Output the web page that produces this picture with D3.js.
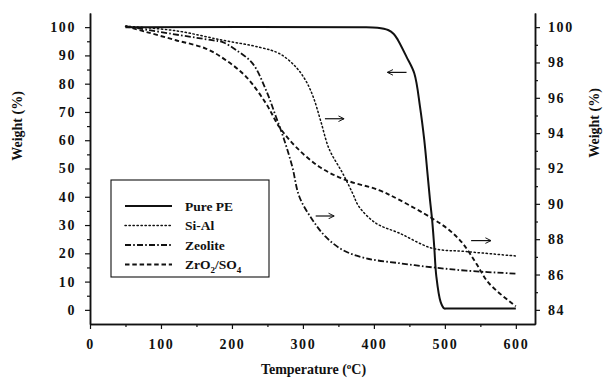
<!DOCTYPE html>
<html>
<head>
<meta charset="utf-8">
<script src="https://cdn.jsdelivr.net/npm/d3@7"></script>
<style>
  html, body { margin: 0; padding: 0; background: #fff; }
  svg { display: block; }
  text { font-family: "Liberation Serif", "Times New Roman", serif; font-weight: bold; fill: #111; }
</style>
</head>
<body>
<svg id="chart" width="606" height="379"></svg>
<script>
// Thermogravimetric curves: temperature (°C) vs. weight (%)
// Pure PE is read on the left axis, the catalysed samples on the right axis.
const pePoints = [
  [50, 100], [380, 100], [405, 99.8], [420, 99.0], [428, 97.6], [434, 95.4],
  [446, 89.5], [457, 83.6], [465, 71.8], [471, 60.0], [475.5, 48.3], [479, 39.0],
  [482, 32.0], [485, 22.4], [488, 11.8], [494, 2.8], [499, 0.5], [503, 0.5], [600, 0.5]
];
const siAlPoints = [
  [50, 100.05], [120, 99.8], [187, 99.26], [240, 98.85], [267, 98.5], [290, 97.75],
  [305, 96.9], [315, 96.0], [325, 94.7], [337, 93.1], [356, 91.73], [370, 90.6],
  [379, 89.84], [403, 88.9], [436, 88.34], [482, 87.49], [530, 87.3], [600, 87.05]
];
const zeolitePoints = [
  [50, 100.05], [126, 99.55], [172, 99.26], [187, 99.15], [206, 98.7], [229, 97.95],
  [248, 96.44], [262, 94.93], [273, 93.7], [285, 92.1], [295, 90.4],
  [313.5, 89.09], [332, 88.14], [356, 87.39], [389, 86.92], [436, 86.64],
  [482, 86.41], [530, 86.22], [600, 86.05]
];
const zrPoints = [
  [50, 100.05], [79, 99.73], [121, 99.26], [163, 98.79], [191.5, 98.13], [220, 97.19],
  [248, 95.68], [266.6, 94.36], [290, 93.23], [323, 92.1], [360, 91.35], [407, 90.78],
  [436, 90.22], [482, 89.18], [506, 88.52], [525, 87.77], [544, 86.64], [562, 85.51],
  [600, 84.2]
];

const seriesNames = ["Pure PE", "Si-Al", "Zeolite", "ZrO2/SO4"];
const seriesAxis = ["left", "right", "right", "right"];
const seriesDash = [null, "1.3 2.7", "6 2.2 1.6 2.2", "4.5 2.8"];
const seriesWidth = [2, 1.5, 1.8, 1.9];

const xTicks = [0, 100, 200, 300, 400, 500, 600];
const xMinorTicks = [50, 150, 250, 350, 450, 550];
const leftTicks = [0, 10, 20, 30, 40, 50, 60, 70, 80, 90, 100];
const leftMinorTicks = [5, 15, 25, 35, 45, 55, 65, 75, 85, 95];
const rightTicks = [84, 86, 88, 90, 92, 94, 96, 98, 100];
const rightMinorTicks = [85, 87, 89, 91, 93, 95, 97, 99];

// arrows tying each curve to its axis: [fromTemp, toTemp, leftAxisWeight]
const arrows = [
  [446, 419, 84.0],
  [331, 358, 67.6],
  [318, 344, 33.2],
  [537, 565, 24.5]
];

const svg = d3.select("#chart");
const plotLeft = 90, plotRight = 535, plotTop = 13, plotBottom = 324;

const x = d3.scaleLinear().domain([0, 627]).range([plotLeft, plotRight]);
const yL = d3.scaleLinear().domain([-5, 105]).range([plotBottom, plotTop]);
const yR = d3.scaleLinear().domain([83.2, 100.8]).range([plotBottom, plotTop]);

function styleAxis(g) {
  g.selectAll("path.domain").attr("stroke", "#111").attr("stroke-width", 1.5);
  g.selectAll(".tick line").attr("stroke", "#111").attr("stroke-width", 1.2);
  g.selectAll(".tick text")
    .attr("font-size", 14)
    .attr("letter-spacing", "1.6px")
    .attr("font-family", "'Liberation Serif', serif")
    .attr("font-weight", "bold")
    .attr("fill", "#111");
}

// X axis
svg.append("g").attr("transform", `translate(0,${plotBottom})`)
  .call(d3.axisBottom(x).tickValues(xMinorTicks).tickSize(3).tickSizeOuter(0).tickFormat(""))
  .call(styleAxis);
svg.append("g").attr("transform", `translate(0,${plotBottom})`)
  .call(d3.axisBottom(x).tickValues(xTicks).tickSize(5).tickSizeOuter(0).tickPadding(10))
  .call(styleAxis);

// Left axis
svg.append("g").attr("transform", `translate(${plotLeft},0)`)
  .call(d3.axisLeft(yL).tickValues(leftMinorTicks).tickSize(3).tickSizeOuter(0).tickFormat(""))
  .call(styleAxis);
svg.append("g").attr("transform", `translate(${plotLeft},0)`)
  .call(d3.axisLeft(yL).tickValues(leftTicks).tickSize(5).tickSizeOuter(0).tickPadding(9))
  .call(styleAxis);

// Right axis
svg.append("g").attr("transform", `translate(${plotRight},0)`)
  .call(d3.axisRight(yR).tickValues(rightMinorTicks).tickSize(3).tickSizeOuter(0).tickFormat(""))
  .call(styleAxis);
svg.append("g").attr("transform", `translate(${plotRight},0)`)
  .call(d3.axisRight(yR).tickValues(rightTicks).tickSize(5).tickSizeOuter(0).tickPadding(8))
  .call(styleAxis);

// Axis titles
const xt = svg.append("text")
  .attr("x", (plotLeft + plotRight) / 2 + 1).attr("y", 374)
  .attr("text-anchor", "middle").attr("font-size", 14)
  .text("Temperature (");
xt.append("tspan").attr("dy", -5).attr("font-size", 9).text("o");
xt.append("tspan").attr("dy", 5).text("C)");

svg.append("text")
  .attr("transform", "translate(22,126) rotate(-90)")
  .attr("text-anchor", "middle").attr("font-size", 14)
  .text("Weight (%)");
svg.append("text")
  .attr("transform", "translate(599,123) rotate(-90)")
  .attr("text-anchor", "middle").attr("font-size", 14)
  .text("Weight (%)");

// Curves
const allPoints = [pePoints, siAlPoints, zeolitePoints, zrPoints];
allPoints.forEach((pts, i) => {
  const yScale = seriesAxis[i] === "left" ? yL : yR;
  const line = d3.line()
    .x(d => x(d[0]))
    .y(d => yScale(d[1]))
    .curve(d3.curveCatmullRom.alpha(0.5));
  svg.append("path")
    .datum(pts)
    .attr("d", line)
    .attr("fill", "none")
    .attr("stroke", "#111")
    .attr("stroke-width", seriesWidth[i])
    .attr("stroke-dasharray", seriesDash[i])
    .attr("stroke-linecap", i === 1 ? "round" : "butt")
    .attr("stroke-linejoin", "round");
});

// Axis-indicator arrows
svg.append("defs").append("marker")
  .attr("id", "head")
  .attr("viewBox", "0 0 10 10")
  .attr("refX", 9).attr("refY", 5)
  .attr("markerWidth", 7).attr("markerHeight", 7)
  .attr("markerUnits", "userSpaceOnUse")
  .attr("orient", "auto")
  .append("path")
  .attr("d", "M1,1 L9,5 L1,9")
  .attr("fill", "none").attr("stroke", "#111").attr("stroke-width", 1.4);

arrows.forEach(a => {
  svg.append("line")
    .attr("x1", x(a[0])).attr("x2", x(a[1]))
    .attr("y1", yL(a[2])).attr("y2", yL(a[2]))
    .attr("stroke", "#111").attr("stroke-width", 1.2)
    .attr("marker-end", "url(#head)");
});

// Legend
const legend = svg.append("g");
legend.append("rect")
  .attr("x", 111).attr("y", 180).attr("width", 158).attr("height", 97)
  .attr("fill", "#fff").attr("stroke", "#111").attr("stroke-width", 1.1);

const legendRowY = [206, 225.5, 245, 264.5];
seriesNames.forEach((name, i) => {
  const ly = legendRowY[i];
  legend.append("line")
    .attr("x1", 125).attr("x2", 172).attr("y1", ly).attr("y2", ly)
    .attr("stroke", "#111")
    .attr("stroke-width", seriesWidth[i])
    .attr("stroke-dasharray", seriesDash[i])
    .attr("stroke-linecap", i === 1 ? "round" : "butt");
  const t = legend.append("text")
    .attr("x", 185).attr("y", ly + 4.5)
    .attr("font-size", 13.5);
  if (name === "ZrO2/SO4") {
    t.append("tspan").text("ZrO");
    t.append("tspan").attr("dy", 4).attr("font-size", 9).text("2");
    t.append("tspan").attr("dy", -4).text("/SO");
    t.append("tspan").attr("dy", 4).attr("font-size", 9).text("4");
  } else {
    t.text(name);
  }
});
</script>
</body>
</html>
